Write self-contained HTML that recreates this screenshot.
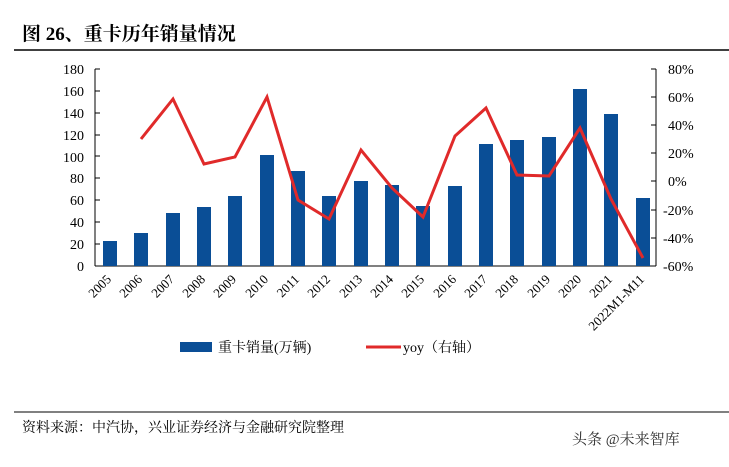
<!DOCTYPE html>
<html><head><meta charset="utf-8"><style>
body{margin:0;background:#fff;}
svg text{font-family:"Liberation Serif","Noto Serif CJK SC",serif;}
</style></head><body>
<svg width="729" height="462" xmlns="http://www.w3.org/2000/svg">
<rect width="729" height="462" fill="#fff"/>
<text x="22" y="40" font-size="19" font-weight="bold" font-family="Liberation Sans,Noto Sans CJK SC,sans-serif">图 26、重卡历年销量情况</text>
<line x1="14" y1="50" x2="729" y2="50" stroke="#000" stroke-width="1.5"/>
<g font-size="14" fill="#000">
<line x1="95" y1="69" x2="95" y2="266" stroke="#000"/>
<line x1="95" y1="266" x2="656" y2="266" stroke="#000"/>
<line x1="656" y1="69" x2="656" y2="266" stroke="#000"/>
<g text-anchor="end">
<text x="84" y="271">0</text><text x="84" y="249">20</text><text x="84" y="227">40</text><text x="84" y="205">60</text><text x="84" y="183">80</text><text x="84" y="162">100</text><text x="84" y="140">120</text><text x="84" y="118">140</text><text x="84" y="96">160</text><text x="84" y="74">180</text>
</g>
<g stroke="#000"><line x1="95" y1="69" x2="100" y2="69"/><line x1="95" y1="91" x2="100" y2="91"/><line x1="95" y1="113" x2="100" y2="113"/><line x1="95" y1="135" x2="100" y2="135"/><line x1="95" y1="156" x2="100" y2="156"/><line x1="95" y1="178" x2="100" y2="178"/><line x1="95" y1="200" x2="100" y2="200"/><line x1="95" y1="222" x2="100" y2="222"/><line x1="95" y1="244" x2="100" y2="244"/>
<line x1="651" y1="69" x2="656" y2="69"/><line x1="651" y1="97" x2="656" y2="97"/><line x1="651" y1="125" x2="656" y2="125"/><line x1="651" y1="153" x2="656" y2="153"/><line x1="651" y1="181" x2="656" y2="181"/><line x1="651" y1="210" x2="656" y2="210"/><line x1="651" y1="238" x2="656" y2="238"/></g>
<g>
<text x="668" y="74">80%</text><text x="668" y="102">60%</text><text x="668" y="130">40%</text><text x="668" y="158">20%</text><text x="668" y="186">0%</text><text x="663" y="215">-20%</text><text x="663" y="243">-40%</text><text x="663" y="271">-60%</text>
</g>
</g>
<g fill="#0a4e96">
<rect x="103" y="241" width="14" height="25"/>
<rect x="134" y="233" width="14" height="33"/>
<rect x="166" y="213" width="14" height="53"/>
<rect x="197" y="207" width="14" height="59"/>
<rect x="228" y="196" width="14" height="70"/>
<rect x="260" y="155" width="14" height="111"/>
<rect x="291" y="171" width="14" height="95"/>
<rect x="322" y="196" width="14" height="70"/>
<rect x="354" y="181" width="14" height="85"/>
<rect x="385" y="185" width="14" height="81"/>
<rect x="416" y="206" width="14" height="60"/>
<rect x="448" y="186" width="14" height="80"/>
<rect x="479" y="144" width="14" height="122"/>
<rect x="510" y="140" width="14" height="126"/>
<rect x="542" y="137" width="14" height="129"/>
<rect x="573" y="89" width="14" height="177"/>
<rect x="604" y="114" width="14" height="152"/>
<rect x="636" y="198" width="14" height="68"/>
</g>
<polyline fill="none" stroke="#e02a2a" stroke-width="3" stroke-linejoin="miter" points="141,139 173,99 204,164 235,157 267,97 298,200 329,219 361,150 392,188 423,217 455,136 486,108 517,175 549,176 580,128 611,199 643,258"/>
<g font-size="13" text-anchor="end">
<text transform="translate(112,280) rotate(-45)">2005</text>
<text transform="translate(143,280) rotate(-45)">2006</text>
<text transform="translate(175,280) rotate(-45)">2007</text>
<text transform="translate(206,280) rotate(-45)">2008</text>
<text transform="translate(237,280) rotate(-45)">2009</text>
<text transform="translate(269,280) rotate(-45)">2010</text>
<text transform="translate(300,280) rotate(-45)">2011</text>
<text transform="translate(331,280) rotate(-45)">2012</text>
<text transform="translate(363,280) rotate(-45)">2013</text>
<text transform="translate(394,280) rotate(-45)">2014</text>
<text transform="translate(425,280) rotate(-45)">2015</text>
<text transform="translate(457,280) rotate(-45)">2016</text>
<text transform="translate(488,280) rotate(-45)">2017</text>
<text transform="translate(519,280) rotate(-45)">2018</text>
<text transform="translate(551,280) rotate(-45)">2019</text>
<text transform="translate(582,280) rotate(-45)">2020</text>
<text transform="translate(613,280) rotate(-45)">2021</text>
<text transform="translate(645,280) rotate(-45)">2022M1-M11</text>
</g>
<rect x="180" y="342" width="32" height="10" fill="#0a4e96"/>
<text x="218" y="352" font-size="14">重卡销量(万辆)</text>
<line x1="366" y1="347" x2="401" y2="347" stroke="#e02a2a" stroke-width="3"/>
<text x="403" y="352" font-size="14">yoy（右轴）</text>
<line x1="14" y1="412" x2="729" y2="412" stroke="#000" stroke-width="1"/>
<text x="22" y="432" font-size="14">资料来源：中汽协，兴业证券经济与金融研究院整理</text>
<text x="572" y="444" font-size="15" fill="#333" font-family="Liberation Sans,Noto Sans CJK SC,sans-serif">头条 @未来智库</text>
</svg>
</body></html>
